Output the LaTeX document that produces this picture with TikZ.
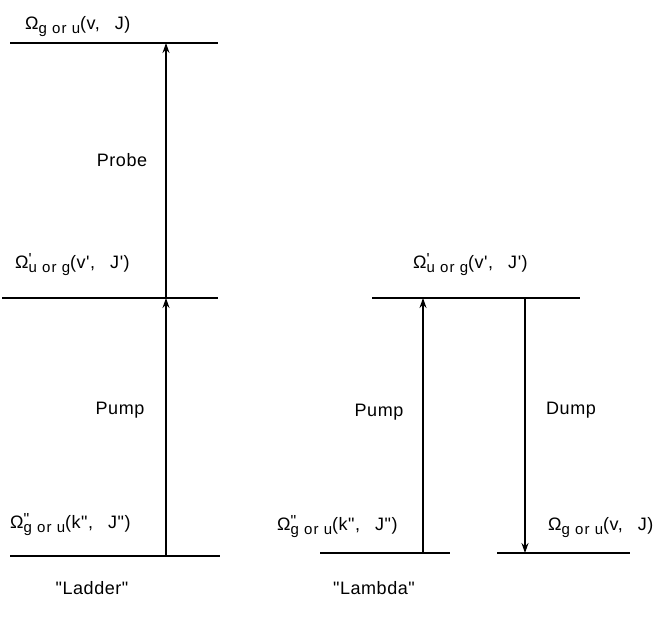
\documentclass[tikz,border=0pt]{standalone}
\usepackage{fontspec}
\newfontfamily\hv{Liberation Sans}[LetterSpace=3]
\newfontfamily\hvs{Liberation Sans}[LetterSpace=7]
\usetikzlibrary{arrows.meta}
\newcommand{\subsz}{\hvs\fontsize{15}{16}\selectfont}
\newcommand{\prsz}{\hv\fontsize{16}{16}\selectfont}
\newcommand{\gap}{\hspace{15pt}}
\newcommand{\lvl}[3]{Ω\makebox[0pt][l]{\raisebox{0.35ex}{\prsz #1}}\raisebox{-0.5ex}{\subsz #2}(#3)}
\tikzset{
  level/.style={line width=1.3pt},
  trans/.style={line width=1.1pt,-{Stealth[length=10pt,width=7pt]}},
  lab/.style={font=\hv\fontsize{18}{20}\selectfont, inner sep=0pt, anchor=base west},
  clab/.style={font=\hv\fontsize{18}{20}\selectfont, inner sep=0pt, anchor=base}
}
\begin{document}
\begin{tikzpicture}[x=1pt,y=-1pt]
\useasboundingbox (0,0) rectangle (660,622);
% Ladder levels
\coordinate (L3a) at (10,43);  \coordinate (L3b) at (218,43);
\coordinate (L2a) at (2,298);  \coordinate (L2b) at (218,298);
\coordinate (L1a) at (10,556); \coordinate (L1b) at (220,556);
\draw[level] (L3a) -- (L3b);
\draw[level] (L2a) -- (L2b);
\draw[level] (L1a) -- (L1b);
\coordinate (Lbot) at (166,556);
\coordinate (Lmid) at (166,298);
\coordinate (Ltop) at (166,43);
\draw[trans] (Lbot) -- (Lmid);
\draw[trans] (Lmid) -- (Ltop);
% Lambda levels
\coordinate (R2a) at (372,298); \coordinate (R2b) at (580,298);
\coordinate (R1a) at (320,553); \coordinate (R1b) at (450,553);
\coordinate (R0a) at (497,553); \coordinate (R0b) at (630,553);
\draw[level] (R2a) -- (R2b);
\draw[level] (R1a) -- (R1b);
\draw[level] (R0a) -- (R0b);
\coordinate (Pbot) at (423,553); \coordinate (Ptop) at (423,298);
\coordinate (Dtop) at (525,298); \coordinate (Dbot) at (525,553);
\draw[trans] (Pbot) -- (Ptop);
\draw[trans] (Dtop) -- (Dbot);
% Labels
\node[lab] (t1) at (25,29) {\lvl{}{g or u}{v,\gap J}};
\node[clab] (t2) at (122,166) {Probe};
\node[lab] (t3) at (15,268) {\lvl{'}{u or g}{v',\gap J'}};
\node[clab] (t4) at (120,414) {Pump};
\node[lab] (t5) at (10,528) {\lvl{"}{g or u}{k",\gap J"}};
\node[clab] (t6) at (92,594) {"Ladder"};
\node[lab] (t7) at (413,268) {\lvl{'}{u or g}{v',\gap J'}};
\node[clab] (t8) at (379,416) {Pump};
\node[clab] (t9) at (571,414) {Dump};
\node[lab] (t10) at (277,530) {\lvl{"}{g or u}{k",\gap J"}};
\node[lab] (t11) at (548,530) {\lvl{}{g or u}{v,\gap J}};
\node[clab] (t12) at (374,594) {"Lambda"};
\end{tikzpicture}
\end{document}
